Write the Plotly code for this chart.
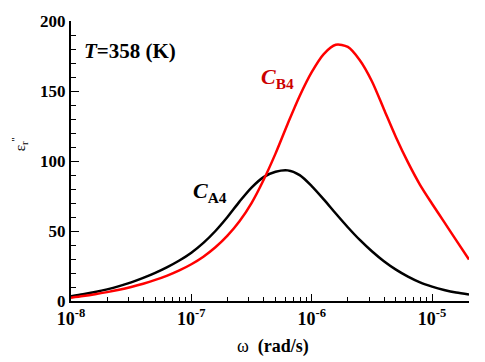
import plotly.graph_objects as go

# angular frequency, read in decades (log10 of rad/s)
log_omega = [-8.0, -7.9, -7.8, -7.7, -7.6, -7.5, -7.4, -7.3, -7.2, -7.1, -7.0,
             -6.9, -6.8, -6.7, -6.6, -6.5, -6.4, -6.3, -6.2, -6.1, -6.0,
             -5.9, -5.8, -5.7, -5.6, -5.5, -5.4, -5.3, -5.2, -5.1, -5.0,
             -4.9, -4.8, -4.693]
eps_A4 = [3.4, 4.8, 6.4, 8.3, 10.6, 13.3, 16.5, 20.1, 24.2, 28.9, 34.5,
          41.5, 50.0, 60.0, 71.0, 81.0, 88.5, 92.3, 93.3, 89.9, 82.1,
          72.6, 62.5, 52.7, 43.6, 35.5, 28.4, 22.4, 17.4, 13.3, 10.3,
          7.9, 6.0, 4.6]
eps_B4 = [2.4, 3.55, 4.85, 6.35, 8.05, 10.05, 12.35, 15.05, 18.15, 21.85, 26.25,
          31.65, 38.35, 46.65, 56.95, 69.95, 86.45, 105.45, 126.45, 146.45, 163.45,
          176.4, 183.0, 181.5, 172.0, 157.0, 137.0, 117.0, 99.0, 83.0, 69.5,
          56.5, 43.5, 29.6]
omega = [10 ** v for v in log_omega]

x_tickvals = [1e-8, 1e-7, 1e-6, 1e-5]
x_ticktext = ["10<sup>-8</sup>", "10<sup>-7</sup>", "10<sup>-6</sup>", "10<sup>-5</sup>"]
y_tickvals = [0, 50, 100, 150, 200]

FONT = "Times New Roman, Liberation Serif, serif"

fig = go.Figure()
fig.add_trace(go.Scatter(x=omega, y=eps_A4, mode="lines",
                         line=dict(color="black", width=2.5, shape="spline", smoothing=0.8),
                         showlegend=False))
fig.add_trace(go.Scatter(x=omega, y=eps_B4, mode="lines",
                         line=dict(color="#ff0000", width=2.5, shape="spline", smoothing=0.8),
                         showlegend=False))

fig.update_layout(
    width=485, height=362,
    margin=dict(l=71, r=16, t=17, b=61),
    plot_bgcolor="white", paper_bgcolor="white",
    font=dict(family=FONT, color="black"),
)
fig.update_xaxes(
    type="log", range=[-8, -4.693],
    showgrid=False, zeroline=False,
    showline=True, linecolor="black", linewidth=2, mirror=False,
    ticks="inside", ticklen=7, tickwidth=1, tickcolor="black",
    tickvals=x_tickvals, ticktext=x_ticktext,
    tickfont=dict(family=FONT, size=18, color="black", weight="bold"),
    minor=dict(ticks="inside", ticklen=4, tickwidth=1, tickcolor="black", dtick="D1", showgrid=False),
)
fig.update_yaxes(
    range=[0, 200],
    showgrid=False, zeroline=False,
    showline=True, linecolor="black", linewidth=2, mirror=False,
    ticks="inside", ticklen=8, tickwidth=1, tickcolor="black",
    tickvals=y_tickvals,
    tickfont=dict(family=FONT, size=17, color="black", weight="bold"),
    minor=dict(ticks="inside", ticklen=5, tickwidth=1, tickcolor="black", dtick=10, showgrid=False),
)

fig.add_annotation(x=-0.128, y=0.56, xref="paper", yref="paper", showarrow=False,
                   xanchor="center", yanchor="middle",
                   text="ε<sub>r</sub><sup>''</sup>", textangle=-90,
                   font=dict(family=FONT, size=15, color="black"))
fig.add_annotation(x=0.5075, y=-0.162, xref="paper", yref="paper", showarrow=False,
                   xanchor="center", yanchor="middle",
                   text="ω  <b>(rad/s)</b>",
                   font=dict(family=FONT, size=18, color="black"))
fig.add_annotation(x=0.027, y=0.894, xref="paper", yref="paper", showarrow=False,
                   xanchor="left", yanchor="middle", text="<b><i>T</i>=358 (K)</b>",
                   font=dict(family=FONT, size=21, color="black"))
fig.add_annotation(x=0.302, y=0.39, xref="paper", yref="paper", showarrow=False,
                   xanchor="left", yanchor="middle", text="<b><i>C</i><sub>A4</sub></b>",
                   font=dict(family=FONT, size=22, color="black"))
fig.add_annotation(x=0.473, y=0.795, xref="paper", yref="paper", showarrow=False,
                   xanchor="left", yanchor="middle", text="<b><i>C</i><sub>B4</sub></b>",
                   font=dict(family=FONT, size=22, color="#cc0000"))

fig.write_html("out.html", config={"displayModeBar": False},
               post_script="document.body.style.margin='0px';document.body.style.overflow='hidden';")
